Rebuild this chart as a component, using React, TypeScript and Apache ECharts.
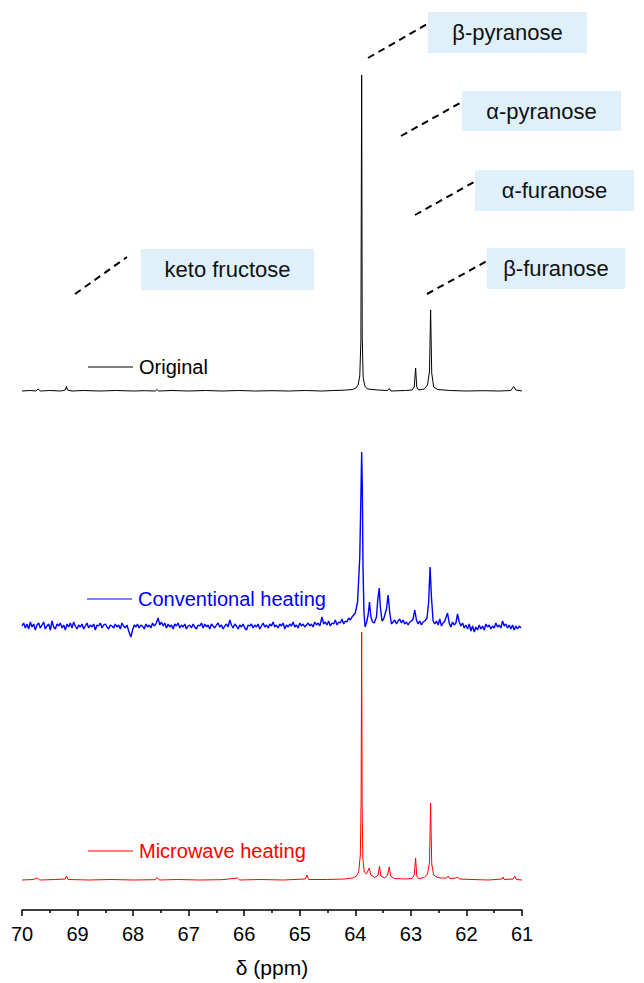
import React, { useEffect, useRef } from "react";
import * as echarts from "echarts";

// Chemical shift axis (ppm), drawn reversed as in NMR spectra
const xTicks = [70, 69, 68, 67, 66, 65, 64, 63, 62, 61];
const seriesNames = ["Original", "Conventional heating", "Microwave heating"];
// vertical stacking offsets of each spectrum (intensity units)
const offsets = [519, 283, 30];

// [ppm, intensity]
const originalSpectrum: [number, number][] = [
  [70.0, 0], [69.85, 0.5], [69.75, 0], [69.71, 2], [69.67, 0], [69.5, 0.5], [69.3, 0],
  [69.22, 1], [69.2, 4.5], [69.18, 1], [69.1, 0], [68.9, 0.5], [68.6, 0], [68.3, 0.5],
  [68.0, 0], [67.8, 0.3], [67.6, 0], [67.57, 1.5], [67.54, 0], [67.3, 0.5], [67.0, 0],
  [66.7, 0.5], [66.4, 0], [66.1, 0.5], [65.8, 0], [65.5, 0.3], [65.2, 0], [64.9, 0.5],
  [64.6, 0], [64.4, 0.5], [64.2, 0.8], [64.05, 1.5], [63.99, 3], [63.95, 6], [63.92, 15],
  [63.9, 50], [63.886, 316], [63.876, 55], [63.86, 14], [63.83, 5], [63.78, 2], [63.6, 1],
  [63.42, 0.5], [63.39, 2.5], [63.36, 0], [63.1, 0.5], [62.98, 1], [62.94, 4], [62.915, 23],
  [62.895, 4], [62.86, 1], [62.76, 2], [62.7, 6], [62.665, 20], [62.645, 81], [62.625, 18],
  [62.59, 4], [62.52, 1.5], [62.3, 0.5], [62.0, 0], [61.7, 0.3], [61.4, 0], [61.2, 0.5],
  [61.15, 4.5], [61.11, 1], [61.0, 0],
];

const conventionalSpectrum: [number, number][] = [
  [70.0, 1], [69.97, 4], [69.94, -1], [69.91, 3], [69.88, -2], [69.85, 5], [69.82, 0], [69.79, 3], [69.76, -3], [69.73, 2],
  [69.7, 4], [69.67, -1], [69.64, 2], [69.61, 5], [69.58, -2], [69.55, 1], [69.52, 3], [69.49, -3], [69.46, 6], [69.43, 0],
  [69.4, -2], [69.37, 3], [69.34, 1], [69.31, 4], [69.28, -1], [69.25, 2], [69.22, -3], [69.19, 3], [69.16, 0], [69.13, 4],
  [69.1, -1], [69.07, 5], [69.04, 1], [69.01, -2], [68.98, 2], [68.95, 0], [68.92, 3], [68.89, -2], [68.86, 1], [68.83, 4],
  [68.8, -1], [68.77, 2], [68.74, 0], [68.71, 3], [68.68, -3], [68.65, 2], [68.62, 1], [68.59, 4], [68.56, -1], [68.53, 2],
  [68.5, 3], [68.47, 0], [68.44, -2], [68.41, 2], [68.38, 1], [68.35, -1], [68.32, 3], [68.29, 0], [68.26, 2], [68.23, -2],
  [68.2, 4], [68.17, 1], [68.14, -1], [68.11, 2], [68.08, -4], [68.04, -10], [68.01, -3], [67.98, 2], [67.95, 0], [67.92, 3],
  [67.89, -1], [67.86, 2], [67.83, 1], [67.8, -2], [67.77, 3], [67.74, 0], [67.71, 2], [67.68, -1], [67.65, 4], [67.62, 1],
  [67.59, 3], [67.55, 9], [67.52, 2], [67.49, 5], [67.46, 1], [67.43, 4], [67.4, -1], [67.37, 3], [67.34, 0], [67.31, 2],
  [67.28, -2], [67.25, 3], [67.22, 1], [67.19, 4], [67.16, -1], [67.13, 2], [67.1, 0], [67.07, 3], [67.04, -2], [67.01, 1],
  [66.98, 2], [66.95, -1], [66.92, 3], [66.89, 0], [66.86, -2], [66.83, 2], [66.8, 1], [66.77, 4], [66.74, -1], [66.71, 3],
  [66.68, 0], [66.65, 2], [66.62, -2], [66.59, 3], [66.56, 1], [66.53, -1], [66.5, 2], [66.47, 4], [66.44, 0], [66.41, 2],
  [66.38, -2], [66.35, 1], [66.32, 3], [66.29, 0], [66.26, 7], [66.23, 2], [66.2, -1], [66.17, 3], [66.14, 1], [66.11, -2],
  [66.08, 2], [66.05, 0], [66.02, 3], [65.99, -1], [65.96, -3], [65.93, 2], [65.9, 1], [65.87, 3], [65.84, -1], [65.81, 2],
  [65.78, 0], [65.75, 3], [65.72, -2], [65.69, 1], [65.66, 4], [65.63, 0], [65.6, 2], [65.57, -1], [65.54, 3], [65.51, 1],
  [65.48, 5], [65.45, 0], [65.42, 2], [65.39, -1], [65.36, 3], [65.33, 1], [65.3, 4], [65.27, -2], [65.24, 2], [65.21, 0],
  [65.18, 3], [65.15, 1], [65.12, 5], [65.09, 0], [65.06, 2], [65.03, -1], [65.0, 4], [64.97, 1], [64.94, 3], [64.91, 0],
  [64.88, 2], [64.85, 4], [64.82, 1], [64.79, 3], [64.76, 0], [64.73, 5], [64.7, 2], [64.67, 4], [64.64, 1], [64.6, 10],
  [64.57, 3], [64.54, 5], [64.51, 2], [64.48, 6], [64.45, 1], [64.42, 4], [64.39, 3], [64.36, 7], [64.33, 2], [64.3, 5],
  [64.27, 4], [64.24, 8], [64.21, 3], [64.18, 6], [64.15, 5], [64.12, 9], [64.09, 7], [64.06, 10], [64.03, 12],
  [64.0, 14], [63.96, 25], [63.92, 70], [63.9, 130], [63.886, 175],
  [63.874, 140], [63.862, 60], [63.845, 15], [63.825, 0], [63.8, 4], [63.77, 12],
  [63.745, 25], [63.72, 10], [63.69, 5], [63.66, 4], [63.62, 10], [63.595, 28], [63.57, 39],
  [63.55, 20], [63.52, 6], [63.49, 8], [63.44, 18], [63.41, 32], [63.38, 14], [63.35, 3],
  [63.32, 5], [63.29, 7], [63.26, 3], [63.23, 6], [63.2, 8], [63.17, 4], [63.14, 7], [63.11, 3],
  [63.08, 5], [63.05, 2], [63.02, 5], [62.99, 6], [62.96, 8], [62.93, 17], [62.9, 7], [62.87, 3],
  [62.84, 6], [62.81, 2], [62.78, 5], [62.75, 6], [62.71, 9], [62.68, 25], [62.655, 60], [62.63, 30],
  [62.6, 6], [62.57, 3], [62.54, 6], [62.51, 2], [62.48, 8], [62.45, 1], [62.42, 4], [62.39, 6],
  [62.34, 14], [62.31, 4], [62.28, 0], [62.25, 5], [62.22, 2], [62.19, 4], [62.16, 13], [62.13, 5],
  [62.1, 1], [62.07, 4], [62.04, -1], [62.01, 2], [61.98, -2], [61.95, 3], [61.92, -4], [61.89, 1],
  [61.86, -5], [61.83, 0], [61.8, -3], [61.77, 2], [61.74, -2], [61.71, 1], [61.68, -3], [61.65, 3],
  [61.62, 0], [61.59, 2], [61.56, -2], [61.53, 1], [61.5, -1], [61.47, 4], [61.44, 0], [61.41, 2],
  [61.38, -1], [61.35, 6], [61.32, 1], [61.29, 3], [61.26, -1], [61.23, 2], [61.2, -2], [61.17, 2],
  [61.14, -3], [61.11, 1], [61.08, -2], [61.05, 1], [61.02, -1],
];

const microwaveSpectrum: [number, number][] = [
  [70.0, 0], [69.8, 0.5], [69.72, 2], [69.68, 0], [69.4, 0.5], [69.22, 1], [69.2, 4],
  [69.17, 0.5], [68.8, 0], [68.4, 0.5], [68.0, 0], [67.6, 0.3], [67.57, 2.5], [67.53, 0],
  [67.2, 0.5], [66.8, 0], [66.4, 0.3], [66.12, 2], [66.08, 0], [65.7, 0.5], [65.3, 0],
  [64.9, 1], [64.87, 5], [64.84, 0.5], [64.5, 0.5], [64.2, 1], [64.05, 2], [63.98, 4],
  [63.94, 8], [63.91, 25], [63.896, 80], [63.886, 248], [63.877, 70], [63.865, 22],
  [63.84, 8], [63.8, 6], [63.75, 12], [63.72, 5], [63.65, 2.5], [63.59, 5], [63.565, 14],
  [63.54, 4], [63.47, 2], [63.42, 5], [63.39, 13], [63.365, 4], [63.3, 1.5], [63.1, 1],
  [62.98, 1.5], [62.94, 5], [62.915, 22], [62.895, 4], [62.86, 1.5], [62.76, 2.5],
  [62.7, 6], [62.665, 18], [62.645, 77], [62.625, 16], [62.59, 5], [62.52, 2.5],
  [62.45, 2], [62.36, 2], [62.33, 4], [62.3, 1.5], [62.19, 2], [62.16, 3], [62.13, 1],
  [61.9, 0.5], [61.6, 0], [61.36, 1], [61.34, 3], [61.32, 0.5], [61.16, 1], [61.13, 4],
  [61.1, 0.5], [61.0, 0],
];

const spectra = [originalSpectrum, conventionalSpectrum, microwaveSpectrum];
const colors = ["#000000", "#0000ff", "#ff0000"];
const lineWidths = [1, 1.4, 1];

// annotation labels
const annotations = ["β-pyranose", "α-pyranose", "α-furanose", "β-furanose", "keto fructose"];

const FONT = "'Liberation Sans', Arial, sans-serif";

export default function App() {
  const ref = useRef<HTMLDivElement>(null);

  useEffect(() => {
    if (!ref.current) return;
    const chart = echarts.init(ref.current, undefined, { renderer: "svg" });

    const series = spectra.map((data, i) => ({
      name: seriesNames[i],
      type: "line",
      data: data.map(([x, y]) => [x, y + offsets[i]]),
      showSymbol: false,
      symbol: "none",
      lineStyle: { color: colors[i], width: lineWidths[i] },
      itemStyle: { color: colors[i] },
      z: 3,
    }));

    // annotation boxes: [x, y, w, h] and dashed leader lines
    const boxes = [
      [428, 12, 159, 41],
      [462, 91, 159, 40],
      [475, 170, 159, 41],
      [487, 248, 138, 41],
      [141, 249, 173, 41],
    ];
    const leaders = [
      [368, 58, 427, 24],
      [401, 136, 460, 103],
      [415, 215, 474, 182],
      [427, 294, 487, 261],
      [75, 294, 127, 257],
    ];
    const legendPos = [
      [88, 367],
      [87, 599],
      [88, 851],
    ];

    const graphic: any[] = [];
    boxes.forEach((b, i) => {
      graphic.push({
        type: "rect",
        shape: { x: b[0], y: b[1], width: b[2], height: b[3] },
        style: { fill: "#dff0fb" },
        z: 10,
      });
      graphic.push({
        type: "text",
        x: b[0] + b[2] / 2,
        y: b[1] + b[3] / 2,
        style: {
          text: annotations[i],
          fontSize: 22,
          fontFamily: FONT,
          fill: "#111",
          align: "center",
          verticalAlign: "middle",
        },
        z: 11,
      });
    });
    leaders.forEach((l) => {
      graphic.push({
        type: "line",
        shape: { x1: l[0], y1: l[1], x2: l[2], y2: l[3] },
        style: { stroke: "#000", lineWidth: 2, lineDash: [7, 5] },
        z: 10,
      });
    });
    legendPos.forEach((p, i) => {
      graphic.push({
        type: "line",
        shape: { x1: p[0], y1: p[1], x2: p[0] + 45, y2: p[1] },
        style: { stroke: colors[i], lineWidth: 1 },
        z: 10,
      });
      graphic.push({
        type: "text",
        x: p[0] + 51,
        y: p[1],
        style: {
          text: seriesNames[i],
          fontSize: 20,
          fontFamily: FONT,
          fill: colors[i],
          align: "left",
          verticalAlign: "middle",
        },
        z: 10,
      });
    });

    chart.setOption({
      animation: false,
      textStyle: { fontFamily: FONT },
      grid: { left: 22, right: 122, top: 0, bottom: 73 },
      xAxis: {
        type: "value",
        min: xTicks[xTicks.length - 1],
        max: xTicks[0],
        interval: 1,
        inverse: true,
        axisLine: { show: true, onZero: false, lineStyle: { color: "#000", width: 1.5 } },
        axisTick: { show: true, length: 6, lineStyle: { color: "#000", width: 1.5 } },
        minorTick: { show: true, splitNumber: 2, length: 3, lineStyle: { color: "#000", width: 1.5 } },
        splitLine: { show: false },
        axisLabel: { fontSize: 20, color: "#000", margin: 14, fontFamily: FONT },
        name: "δ (ppm)",
        nameLocation: "middle",
        nameGap: 47,
        nameTextStyle: { fontSize: 21, color: "#000", fontFamily: FONT },
      },
      yAxis: { type: "value", min: 0, max: 910, show: false },
      series,
      graphic,
    });

    return () => chart.dispose();
  }, []);

  return (
    <div
      ref={ref}
      style={{ position: "fixed", left: 0, top: 0, width: 644, height: 983, background: "#fff" }}
    />
  );
}
